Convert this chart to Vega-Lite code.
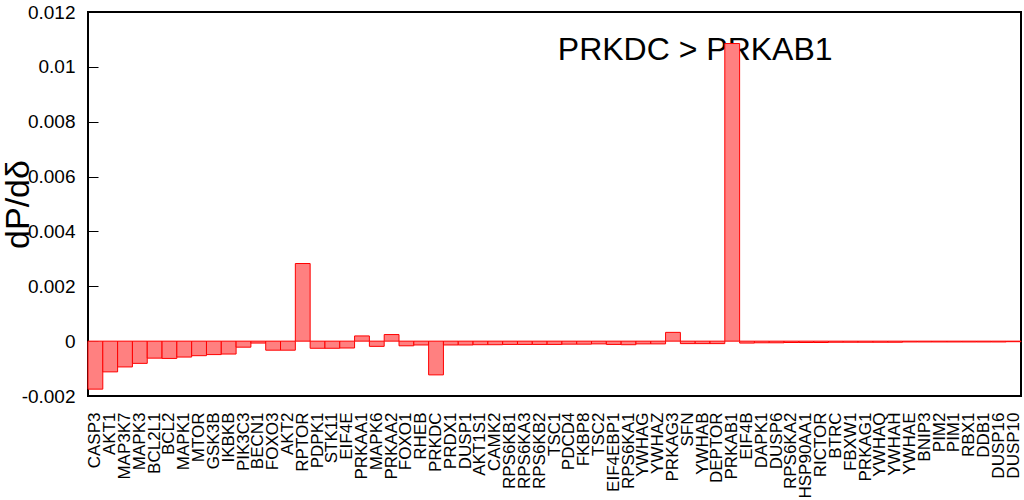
{
  "$schema": "https://vega.github.io/schema/vega-lite/v6.json",
  "width": 933,
  "height": 384,
  "autosize": {"type": "none"},
  "padding": {"left": 88, "top": 12, "right": 3, "bottom": 104},
  "background": "white",
  "config": {
    "view": {"stroke": "#000000", "strokeWidth": 2},
    "font": "Liberation Sans"
  },
  "datasets": {
    "bars": [
      {"gene": "CASP3", "v": -0.00175},
      {"gene": "AKT1", "v": -0.00112},
      {"gene": "MAP3K7", "v": -0.00094},
      {"gene": "MAPK3", "v": -0.00081},
      {"gene": "BCL2L1", "v": -0.00062},
      {"gene": "BCL2", "v": -0.00063},
      {"gene": "MAPK1", "v": -0.00058},
      {"gene": "MTOR", "v": -0.00053},
      {"gene": "GSK3B", "v": -0.00049},
      {"gene": "IKBKB", "v": -0.00047},
      {"gene": "PIK3C3", "v": -0.00022},
      {"gene": "BECN1", "v": -0.00007},
      {"gene": "FOXO3", "v": -0.00033},
      {"gene": "AKT2", "v": -0.00033},
      {"gene": "RPTOR", "v": 0.00283},
      {"gene": "PDPK1", "v": -0.00026},
      {"gene": "STK11", "v": -0.00026},
      {"gene": "EIF4E", "v": -0.00025},
      {"gene": "PRKAA1", "v": 0.00019},
      {"gene": "MAPK6", "v": -0.00019},
      {"gene": "PRKAA2", "v": 0.00024},
      {"gene": "FOXO1", "v": -0.00017},
      {"gene": "RHEB", "v": -0.00014},
      {"gene": "PRKDC", "v": -0.00123},
      {"gene": "PRDX1", "v": -0.00014},
      {"gene": "DUSP1", "v": -0.00014},
      {"gene": "AKT1S1", "v": -0.00013},
      {"gene": "CAMK2", "v": -0.00013},
      {"gene": "RPS6KB1", "v": -0.00012},
      {"gene": "RPS6KA3", "v": -0.00012},
      {"gene": "RPS6KB2", "v": -0.00012},
      {"gene": "TSC1", "v": -0.00012},
      {"gene": "PDCD4", "v": -0.00011},
      {"gene": "FKBP8", "v": -0.00011},
      {"gene": "TSC2", "v": -0.0001},
      {"gene": "EIF4EBP1", "v": -0.00012},
      {"gene": "RPS6KA1", "v": -0.00013},
      {"gene": "YWHAG", "v": -0.0001},
      {"gene": "YWHAZ", "v": -0.0001},
      {"gene": "PRKAG3", "v": 0.00032},
      {"gene": "SFN", "v": -0.00009},
      {"gene": "YWHAB", "v": -0.00009},
      {"gene": "DEPTOR", "v": -0.00009},
      {"gene": "PRKAB1", "v": 0.01085},
      {"gene": "EIF4B", "v": -0.00007},
      {"gene": "DAPK1", "v": -0.00006},
      {"gene": "DUSP6", "v": -0.00006},
      {"gene": "RPS6KA2", "v": -0.00005},
      {"gene": "HSP90AA1", "v": -0.00005},
      {"gene": "RICTOR", "v": -0.00005},
      {"gene": "BTRC", "v": -0.00004},
      {"gene": "FBXW1", "v": -0.00004},
      {"gene": "PRKAG1", "v": -0.00004},
      {"gene": "YWHAQ", "v": -0.00004},
      {"gene": "YWHAH", "v": -0.00004},
      {"gene": "YWHAE", "v": -0.00003},
      {"gene": "BNIP3", "v": -0.00003},
      {"gene": "PIM2", "v": -0.00003},
      {"gene": "PIM1", "v": -0.00003},
      {"gene": "RBX1", "v": -0.00003},
      {"gene": "DDB1", "v": -0.00003},
      {"gene": "DUSP16", "v": -0.00003},
      {"gene": "DUSP10", "v": -0.00002}
    ],
    "note": [
      {"gene": "YWHAB", "v": 0.01026, "label": "PRKDC > PRKAB1"}
    ]
  },
  "encoding": {
    "x": {
      "field": "gene",
      "type": "nominal",
      "sort": null,
      "scale": {
        "paddingInner": 0,
        "paddingOuter": 0,
        "domain": ["CASP3", "AKT1", "MAP3K7", "MAPK3", "BCL2L1", "BCL2", "MAPK1", "MTOR", "GSK3B", "IKBKB", "PIK3C3", "BECN1", "FOXO3", "AKT2", "RPTOR", "PDPK1", "STK11", "EIF4E", "PRKAA1", "MAPK6", "PRKAA2", "FOXO1", "RHEB", "PRKDC", "PRDX1", "DUSP1", "AKT1S1", "CAMK2", "RPS6KB1", "RPS6KA3", "RPS6KB2", "TSC1", "PDCD4", "FKBP8", "TSC2", "EIF4EBP1", "RPS6KA1", "YWHAG", "YWHAZ", "PRKAG3", "SFN", "YWHAB", "DEPTOR", "PRKAB1", "EIF4B", "DAPK1", "DUSP6", "RPS6KA2", "HSP90AA1", "RICTOR", "BTRC", "FBXW1", "PRKAG1", "YWHAQ", "YWHAH", "YWHAE", "BNIP3", "PIM2", "PIM1", "RBX1", "DDB1", "DUSP16", "DUSP10"]
      },
      "axis": {
        "title": null,
        "ticks": false,
        "domain": false,
        "labelAngle": 270,
        "labelFontSize": 17,
        "labelColor": "#000000",
        "labelPadding": 16,
        "labelOverlap": false,
        "labelBound": false,
        "labelFont": "Liberation Sans"
      }
    }
  },
  "layer": [
    {
      "data": {"name": "note"},
      "mark": {"type": "text", "fontSize": 32, "align": "center", "baseline": "alphabetic", "color": "#000000", "font": "Liberation Sans"},
      "encoding": {
        "x": {"field": "gene", "type": "nominal", "bandPosition": 0},
        "y": {"field": "v", "type": "quantitative"},
        "text": {"field": "label"}
      }
    },
    {
      "data": {"name": "bars"},
      "mark": {"type": "bar", "fill": "#ff8080", "fillOpacity": 1, "stroke": "#ff0000", "strokeWidth": 1},
      "encoding": {
        "y": {
          "field": "v",
          "type": "quantitative",
          "scale": {"domain": [-0.002, 0.012], "nice": false, "zero": false},
          "axis": {
            "title": "dP/dδ",
            "titleFontSize": 34,
            "titleFontWeight": "normal",
            "titleColor": "#000000",
            "titleFont": "Liberation Sans",
            "titleAngle": 270,
            "titleAlign": "center",
            "titleBaseline": "alphabetic",
            "titleX": -60,
            "values": [-0.002, 0, 0.002, 0.004, 0.006, 0.008, 0.01, 0.012],
            "labelExpr": "'' + datum.value",
            "labelFontSize": 19,
            "labelColor": "#000000",
            "labelFont": "Liberation Sans",
            "labelPadding": 23,
            "tickSize": -10,
            "tickColor": "#000000",
            "tickWidth": 1,
            "grid": false,
            "domain": false,
            "labelBound": false
          }
        },
        "y2": {"datum": 0}
      }
    }
  ]
}
